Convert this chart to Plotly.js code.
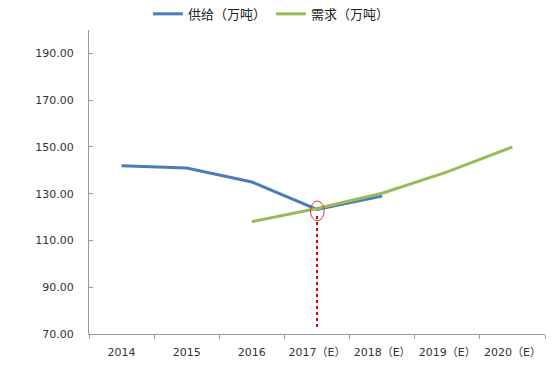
<!DOCTYPE html>
<html>
<head>
<meta charset="utf-8">
<script src="https://cdn.plot.ly/plotly-3.0.1.min.js"></script>
<style>html,body{margin:0;padding:0;background:#fff;}#chart{width:557px;height:371px;}</style>
</head>
<body>
<div id="chart"></div>
<script>
const categories = ["2014", "2015", "2016", "2017（E）", "2018（E）", "2019（E）", "2020（E）"];
const supply = [142, 141, 135, 123.3, 129, null, null];
const demand = [null, null, 118, 123.7, 130.2, 139.3, 150];
const seriesNames = ["供给（万吨）", "需求（万吨）"];
const yTicks = [70, 90, 110, 130, 150, 170, 190];

const traces = [
  {x: categories, y: supply, name: seriesNames[0], type: 'scatter', mode: 'lines',
   line: {color: '#4A7EBB', width: 3}, connectgaps: false},
  {x: categories, y: demand, name: seriesNames[1], type: 'scatter', mode: 'lines',
   line: {color: '#9BBB59', width: 3}, connectgaps: false}
];

const layout = {
  width: 557, height: 371,
  margin: {l: 89, r: 12, t: 30, b: 37, autoexpand: false},
  paper_bgcolor: '#fff', plot_bgcolor: '#fff',
  font: {family: 'DejaVu Sans, "Noto Sans CJK SC", sans-serif', size: 11, color: '#333'},
  showlegend: true,
  legend: {orientation: 'h', x: 0.4, xanchor: 'center', y: 1.053, yanchor: 'middle',
           font: {family: '"Noto Sans CJK SC", sans-serif', size: 13, color: '#222'},
           itemwidth: 30, tracegroupgap: 0},
  xaxis: {type: 'category', range: [-0.5, 6.5], showgrid: false, zeroline: false,
          showline: true, linecolor: '#999', linewidth: 1, tickangle: 0,
          ticks: 'outside', ticklen: 4, tickcolor: '#999', tickson: 'boundaries',
          ticklabelstandoff: 8, automargin: false,
          tickfont: {family: 'DejaVu Sans, "Noto Sans CJK SC", sans-serif', size: 11, color: '#333'}},
  yaxis: {range: [70, 200], tickvals: yTicks, tickformat: '.2f', showgrid: false, zeroline: false,
          showline: true, linecolor: '#999', linewidth: 1,
          ticks: 'inside', ticklen: 4, tickcolor: '#999',
          ticklabelstandoff: 12, automargin: false,
          tickfont: {family: 'DejaVu Sans, sans-serif', size: 11, color: '#333'}},
  shapes: [
    {type: 'line', xref: 'x', yref: 'y', x0: 3, x1: 3, y0: 73, y1: 121.4,
     line: {color: '#E00000', width: 2, dash: 'dot'}},
    {type: 'circle', xref: 'x', yref: 'y', x0: 2.9, x1: 3.11, y0: 118.4, y1: 126.9,
     line: {color: '#E03030', width: 1}}
  ]
};

Plotly.newPlot('chart', traces, layout, {displayModeBar: false, staticPlot: true});
</script>
</body>
</html>
